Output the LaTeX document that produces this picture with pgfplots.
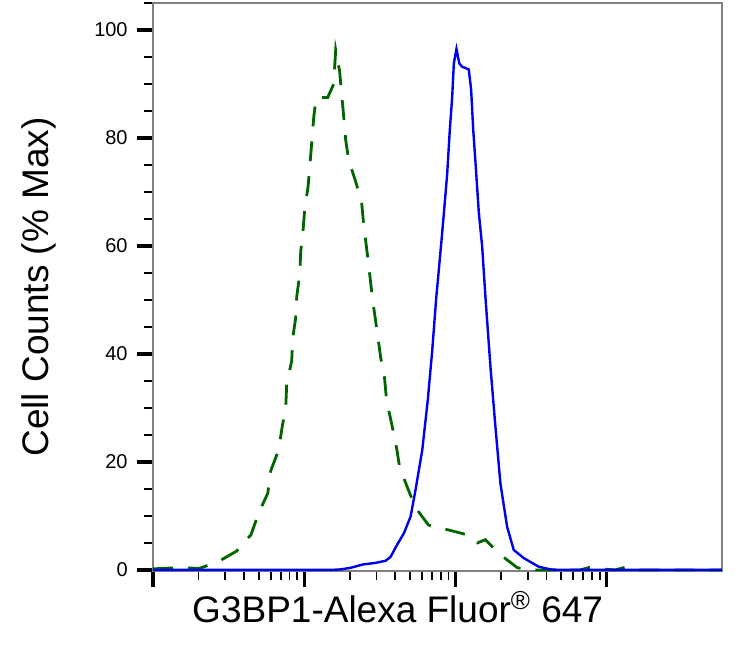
\documentclass[border=0pt]{standalone}
\usepackage{fontspec}
\setmainfont{Liberation Sans}
\usepackage{pgfplots}
\pgfplotsset{compat=1.18}

\definecolor{axisgray}{RGB}{128,128,128}
\definecolor{isogreen}{RGB}{0,100,0}
\definecolor{stainblue}{RGB}{0,0,240}

\begin{document}
\begin{tikzpicture}
\begin{axis}[
    scale only axis,
    width=284.5pt, height=284pt,
    xmode=log,
    xmin=10, xmax=57810,
    ymin=-0.2, ymax=105,
    xtick={10,100,1000,10000},
    xticklabels={},
    ytick={0,20,40,60,80,100},
    minor ytick={5,10,15,25,30,35,45,50,55,65,70,75,85,90,95,105},
    xtick pos=bottom, ytick pos=left,
    tick align=outside,
    major tick length=8pt, minor tick length=4.5pt,
    major tick style={black, line width=1.6pt},
    minor tick style={black, line width=0.9pt},
    axis line style={axisgray, line width=1pt},
    /pgf/number format/assume math mode=true,
    tick label style={font=\fontsize{10}{12}\selectfont},
    yticklabel style={anchor=east, inner sep=0pt, xshift=-4.5pt},
    xlabel={G3BP1-Alexa Fluor\textsuperscript{®} 647},
    ylabel={Cell Counts (\% Max)},
    label style={font=\fontsize{18.5}{22}\selectfont},
    xlabel style={at={(axis description cs:0.43,-0.09)}, anchor=base},
    ylabel style={at={(axis description cs:-0.183,0.5)}, anchor=base},
    clip=false,
]
% isotype control
\addplot[isogreen, line width=1.4pt, dash pattern=on 10pt off 7.5pt] coordinates {
(10,0.2)(14.2,0.4)(20.4,0.3)(27.3,1.6)(35.8,3.5)(44.4,6.5)(50.1,10.6)(57.4,14.2)
(60.1,18.4)(67.9,22.3)(71.0,26)(75.5,30.3)(76.6,34.5)(82.6,38.7)(83.9,42.9)
(87.9,46.8)(89.2,50.6)(93.4,54.8)(94.8,59)(98.4,63.2)(100.7,66.8)(106,71)
(110.5,77)(115.7,84)(120,87.5)(128.6,87.5)(142.9,87.5)(156.6,90)(161.4,96.3)
(171.5,92.3)(176.9,88)(182.3,84)(188,79.6)(196.8,75.9)(218.9,71.9)(239.7,68)
(247.3,63.9)(262.6,58)(283.3,50)(305.7,43.5)(319.8,39.4)(339.8,35.5)(350.6,31.3)
(378.3,27.1)(408.3,22.5)(426.8,19.1)(482,15.2)(544.4,11.5)(663.7,8.3)(899.5,7.4)
(1199,6.5)(1396,5)(1577,5.6)(1982,2.8)(2566,0.4)(3126,0)(6683,0)(7780,0.5)
(9060,0.2)(11380,0)(13250,0.5)(16640,0)(57810,0)
};
% G3BP1 stained
\addplot[stainblue, line width=1.2pt] coordinates {
(10,0)(150,0)(174,0.1)(203,0.4)(243,1.0)(296,1.3)(345,1.7)(372,2.4)(408,4.5)
(456,6.8)(505,9.9)(544,14.8)(603,22.2)(656,31.5)(702,40.7)(744,50)(805,60.5)
(838,66.1)(882,73.5)(917,81.5)(951,87.6)(975,93.8)(1015,96.5)(1040,95)
(1060,93.8)(1107,93.2)(1224,92.7)(1269,88.9)(1310,81.5)(1357,75.3)(1427,66.1)
(1501,59.9)(1577,50.6)(1702,37.7)(1837,26.5)(1982,16)(2194,8)(2427,3.7)
(2825,2.2)(3548,0.6)(4238,0.1)(4933,0)(57810,0)
};
\end{axis}
\pgfresetboundingbox
\path[use as bounding box] (-76.5pt,-37pt) rectangle (301.5pt,285.5pt);
\end{tikzpicture}
\end{document}
